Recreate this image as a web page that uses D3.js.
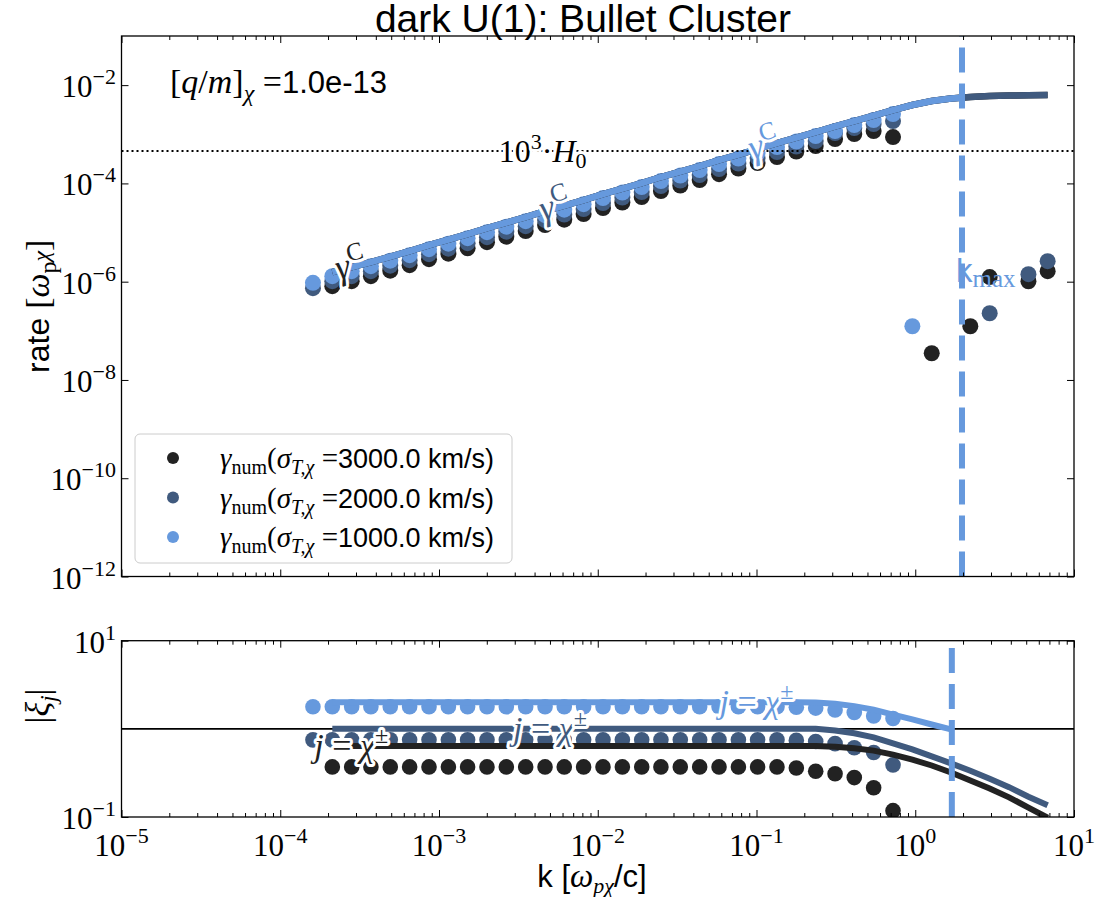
<!DOCTYPE html>
<html><head><meta charset="utf-8">
<script src="https://cdn.jsdelivr.net/npm/d3@7/dist/d3.min.js"></script>
<style>html,body{margin:0;padding:0;background:#fff}</style>
</head><body>
<svg id="fig" width="1102" height="897" xmlns="http://www.w3.org/2000/svg"></svg>
<script>
const SANS = "'Liberation Sans', Arial, sans-serif";
const SERIF = "'Liberation Serif', 'DejaVu Serif', serif";
const C_BLACK = '#222222', C_DARK = '#405a7e', C_LIGHT = '#6699dd';

// wavenumber grid [omega_p/c]
const kGrid = [1.607e-4, 2.128e-4, 2.818e-4, 3.724e-4, 4.932e-4, 6.531e-4, 8.650e-4, 1.146e-3, 1.514e-3, 2.006e-3,
  2.655e-3, 3.516e-3, 4.656e-3, 6.152e-3, 8.147e-3, 1.079e-2, 1.429e-2, 1.892e-2, 2.500e-2, 3.311e-2,
  4.385e-2, 5.808e-2, 7.691e-2, 0.1016, 0.1346, 0.1782, 0.2360, 0.3126, 0.4130, 0.5470,
  0.7244, 0.959, 1.270, 1.679, 2.223, 2.944, 3.899, 5.164, 6.823];

// numerical growth rates (top panel), one entry per kGrid value
const rateBlack = [null, 8.09e-7, 1.023e-6, 1.294e-6, 1.675e-6, 2.168e-6, 2.871e-6, 3.715e-6, 4.808e-6, 6.368e-6,
  8.241e-6, 1.069e-5, 1.416e-5, 1.832e-5, 2.371e-5, 3.141e-5, 4.064e-5, 5.260e-5, 6.966e-5, 9.016e-5,
  1.167e-4, 1.545e-4, 2.000e-4, 2.588e-4, 3.436e-4, 4.446e-4, 5.754e-4, 7.980e-4, 1.009e-3, 1.161e-3,
  8.770e-4, null, 3.5e-8, null, 1.24e-7, 1.24e-6, null, 1.02e-6, 1.64e-6];
const rateDark = [7.38e-7, 1.023e-6, 1.294e-6, 1.637e-6, 2.118e-6, 2.742e-6, 3.631e-6, 4.699e-6, 6.081e-6, 8.054e-6,
  1.042e-5, 1.349e-5, 1.791e-5, 2.317e-5, 2.999e-5, 3.972e-5, 5.140e-5, 6.653e-5, 8.810e-5, 1.140e-4,
  1.476e-4, 1.954e-4, 2.529e-4, 3.273e-4, 4.335e-4, 5.610e-4, 7.278e-4, 1.057e-3, 1.337e-3, 1.614e-3,
  1.858e-3, null, null, null, null, 2.28e-7, null, 1.42e-6, 2.62e-6];
const rateLight = [9.46e-7, 1.294e-6, 1.637e-6, 2.070e-6, 2.679e-6, 3.467e-6, 4.592e-6, 5.943e-6, 7.691e-6, 1.019e-5,
  1.318e-5, 1.706e-5, 2.259e-5, 2.924e-5, 3.784e-5, 5.023e-5, 6.501e-5, 8.414e-5, 1.114e-4, 1.442e-4,
  1.866e-4, 2.472e-4, 3.199e-4, 4.140e-4, 5.483e-4, 7.096e-4, 9.183e-4, 1.161e-3, 1.538e-3, 1.945e-3,
  2.576e-3, 1.24e-7, null, null, null, null, null, null, null];
// analytic Coulomb-type rate gamma^C
const rateCoulomb = [null, 1.56e-6, 1.97e-6, 2.49e-6, 3.23e-6, 4.18e-6, 5.53e-6, 7.16e-6, 9.27e-6, 1.23e-5,
  1.59e-5, 2.06e-5, 2.73e-5, 3.53e-5, 4.57e-5, 6.05e-5, 7.83e-5, 1.01e-4, 1.35e-4, 1.74e-4,
  2.25e-4, 2.99e-4, 3.86e-4, 5.00e-4, 6.62e-4, 8.57e-4, 1.11e-3, 1.44e-3, 1.86e-3, 2.40e-3,
  3.11e-3, 3.94e-3, 4.74e-3, 5.33e-3, 5.73e-3, 6.00e-3, 6.14e-3, 6.22e-3, 6.28e-3];

// |xi_j| numerical points (bottom panel)
const xiBlack = [null, 0.37, 0.37, 0.37, 0.37, 0.37, 0.37, 0.37, 0.37, 0.37,
  0.37, 0.37, 0.37, 0.37, 0.37, 0.37, 0.37, 0.37, 0.37, 0.37,
  0.37, 0.37, 0.37, 0.37, 0.37, 0.36, 0.33, 0.31, 0.28, 0.215,
  0.118, null, null, null, null, null, null, null, null];
const xiDark = [0.75, 0.75, 0.75, 0.75, 0.75, 0.75, 0.75, 0.75, 0.75, 0.75,
  0.75, 0.75, 0.75, 0.75, 0.75, 0.75, 0.75, 0.75, 0.75, 0.75,
  0.75, 0.75, 0.75, 0.75, 0.75, 0.74, 0.72, 0.68, 0.61, 0.54,
  0.39, null, null, null, null, null, null, null, null];
const xiLight = [1.78, 1.78, 1.78, 1.78, 1.78, 1.78, 1.78, 1.78, 1.78, 1.78,
  1.78, 1.78, 1.78, 1.78, 1.78, 1.78, 1.78, 1.78, 1.78, 1.78,
  1.78, 1.78, 1.78, 1.78, 1.78, 1.76, 1.72, 1.64, 1.53, 1.40,
  1.31, null, null, null, null, null, null, null, null];
// |xi_j| analytic curves
const xiCurveBlack = [null, 0.64, 0.64, 0.64, 0.64, 0.64, 0.64, 0.64, 0.64, 0.64,
  0.64, 0.64, 0.64, 0.64, 0.64, 0.64, 0.64, 0.64, 0.64, 0.64,
  0.64, 0.64, 0.64, 0.64, 0.64, 0.64, 0.64, 0.626, 0.602, 0.566,
  0.51, 0.448, 0.384, 0.32, 0.26, 0.211, 0.167, 0.128, 0.098];
const xiCurveDark = [null, 1.0, 1.0, 1.0, 1.0, 1.0, 1.0, 1.0, 1.0, 1.0,
  1.0, 1.0, 1.0, 1.0, 1.0, 1.0, 1.0, 1.0, 1.0, 1.0,
  1.0, 1.0, 1.0, 1.0, 1.0, 1.0, 1.0, 0.96, 0.89, 0.80,
  0.684, 0.585, 0.488, 0.406, 0.335, 0.272, 0.218, 0.170, 0.136];
const xiCurveLight = [null, 2.0, 2.0, 2.0, 2.0, 2.0, 2.0, 2.0, 2.0, 2.0,
  2.0, 2.0, 2.0, 2.0, 2.0, 2.0, 2.0, 2.0, 2.0, 2.0,
  2.0, 2.0, 2.0, 2.0, 2.0, 2.0, 1.99, 1.93, 1.81, 1.65,
  1.45, 1.28, 1.12, 0.985, null, null, null, null, null];

const sigmaLabels = ['3000.0', '2000.0', '1000.0'];
const seriesColors = [C_BLACK, C_DARK, C_LIGHT];
const xMajor = [1e-5, 1e-4, 1e-3, 1e-2, 1e-1, 1e0, 1e1];
const xExp = ['−5', '−4', '−3', '−2', '−1', '0', '1'];
const yTopMajor = [1e-12, 1e-10, 1e-8, 1e-6, 1e-4, 1e-2];
const yTopExp = ['−12', '−10', '−8', '−6', '−4', '−2'];
const yBotMajor = [1e-1, 1e1];
const yBotExp = ['−1', '1'];
const hubbleRate = 4.55e-4;        // 10^3 H_0
const kmaxTop = 1.97, kmaxBottom = 1.70;
const xiUnity = 1.0;
const chargeRatio = '1.0e-13';
const labelKTop = [2.8e-4, 5.4e-3, 0.112];   // where the gamma^C tags sit
const labelKBot = [2.8e-4, 5.0e-3, 0.10];    // where the j = chi tags sit
const labelKHubble = 4.5e-3;

// ---------- layout ----------
const L = 121.5, R = 1074;
const TOP = {y0: 36, y1: 576.5};
const BOT = {y0: 640.7, y1: 817};

const svg = d3.select('#fig');
svg.append('rect').attr('width', 1102).attr('height', 897).attr('fill', '#fff');

const x = d3.scaleLog().domain([1e-5, 1e1]).range([L, R]);
const yT = d3.scaleLog().domain([1e-12, 1e-1]).range([TOP.y1, TOP.y0]);
const yB = d3.scaleLog().domain([1e-1, 1e1]).range([BOT.y1, BOT.y0]);

const defs = svg.append('defs');
function clip(id, x0, y0, x1, y1) {
  defs.append('clipPath').attr('id', id).append('rect')
    .attr('x', x0).attr('y', y0).attr('width', x1 - x0).attr('height', y1 - y0);
  return `url(#${id})`;
}
const clipTop = clip('cTop', L, TOP.y0, R, TOP.y1);
const clipBot = clip('cBot', L, BOT.y0, R, BOT.y1);
const clipTopLight = clip('cTopL', L, TOP.y0, x(kmaxTop), TOP.y1);

// rich text: runs of serif / sans with sub/superscripts
function mtext(parent, parts, attrs) {
  const t = parent.append('text');
  for (const [k, v] of Object.entries(attrs || {})) t.attr(k, v);
  let cur = 0;
  for (const p of parts) {
    const s = t.append('tspan').text(p.t)
      .attr('font-family', p.sans ? SANS : SERIF)
      .attr('font-style', p.it ? 'italic' : 'normal')
      .attr('font-size', p.fs);
    const off = p.dy || 0;
    if (off !== cur) { s.attr('dy', off - cur); cur = off; }
    if (p.dx) s.attr('dx', p.dx);
  }
  return t;
}
function halo(t) {
  return t.attr('stroke', '#fff').attr('stroke-width', 6).attr('stroke-linejoin', 'round')
    .attr('paint-order', 'stroke');
}

function minorTicks(lo, hi) {
  const out = [];
  for (let e = lo; e < hi; e++) for (let m = 2; m < 10; m++) out.push(m * Math.pow(10, e));
  return out;
}
const xMinor = minorTicks(-5, 1);

function frame(g, y, y0, y1, yMaj) {
  const axes = [
    [d3.axisBottom(x), `translate(0,${y1})`, xMajor, 7],
    [d3.axisBottom(x), `translate(0,${y1})`, xMinor, 4],
    [d3.axisTop(x), `translate(0,${y0})`, xMajor, 7],
    [d3.axisTop(x), `translate(0,${y0})`, xMinor, 4],
    [d3.axisLeft(y), `translate(${L},0)`, yMaj, 7],
    [d3.axisRight(y), `translate(${R},0)`, yMaj, 7],
  ];
  for (const [ax, tr, vals, len] of axes) {
    const a = g.append('g').attr('transform', tr)
      .call(ax.tickValues(vals).tickSize(-len).tickFormat(''));
    a.select('.domain').remove();
    a.selectAll('line').attr('stroke', '#000').attr('stroke-width', 1);
  }
  g.append('rect').attr('x', L).attr('y', y0).attr('width', R - L).attr('height', y1 - y0)
    .attr('fill', 'none').attr('stroke', '#000').attr('stroke-width', 1.3);
}

function pairs(vals) { return kGrid.map((k, i) => [k, vals[i]]).filter(d => d[1] != null); }
function interpLog(vals, k) {
  const p = pairs(vals);
  for (let i = 0; i < p.length - 1; i++) {
    if (k >= p[i][0] && k <= p[i + 1][0]) {
      const t = (Math.log(k) - Math.log(p[i][0])) / (Math.log(p[i + 1][0]) - Math.log(p[i][0]));
      return Math.exp(Math.log(p[i][1]) + t * (Math.log(p[i + 1][1]) - Math.log(p[i][1])));
    }
  }
  return p[p.length - 1][1];
}

// ---------- title ----------
svg.append('text').attr('x', 583).attr('y', 32).attr('text-anchor', 'middle')
  .attr('font-family', SANS).attr('font-size', 39).text('dark U(1): Bullet Cluster');

// ---------- top panel ----------
const gT = svg.append('g');
const dotsT = gT.append('g').attr('clip-path', clipTop);
[rateBlack, rateDark, rateLight].forEach((vals, s) => {
  dotsT.append('g').selectAll('circle').data(pairs(vals)).join('circle')
    .attr('cx', d => x(d[0])).attr('cy', d => yT(d[1])).attr('r', 8)
    .attr('fill', seriesColors[s]);
});
const lineT = d3.line().x(d => x(d[0])).y(d => yT(d[1]));
[C_BLACK, C_DARK, C_LIGHT].forEach((c, s) => {
  gT.append('path').attr('d', lineT(pairs(rateCoulomb)))
    .attr('clip-path', s === 2 ? clipTopLight : clipTop)
    .attr('fill', 'none').attr('stroke', c).attr('stroke-width', 6.5);
});
// 10^3 H_0 reference
gT.append('line').attr('x1', L).attr('x2', R).attr('y1', yT(hubbleRate)).attr('y2', yT(hubbleRate))
  .attr('stroke', '#000').attr('stroke-width', 2).attr('stroke-dasharray', '2,3');
halo(mtext(gT, [
  {t: '10', fs: 32}, {t: '3', fs: 22, dy: -13}, {t: '·', fs: 32, dy: 0}, {t: 'H', fs: 32, it: true},
  {t: '0', fs: 22, dy: 6}], {x: x(labelKHubble), y: yT(hubbleRate) + 11, 'text-anchor': 'middle', fill: '#000'}));
// gamma^C tags along the analytic curve
labelKTop.forEach((k, s) => {
  const px = x(k), py = yT(interpLog(rateCoulomb, k));
  const k2 = k * 1.3, dx = x(k2) - px, dy = yT(interpLog(rateCoulomb, k2)) - py;
  const ang = Math.atan2(dy, dx) * 180 / Math.PI;
  halo(mtext(gT, [{t: 'γ', fs: 36, it: true}, {t: 'C', fs: 25, dy: -15}],
    {transform: `translate(${px},${py}) rotate(${ang})`, y: 9, 'text-anchor': 'middle', fill: seriesColors[s]}));
});
// k_max marker
gT.append('line').attr('x1', x(kmaxTop)).attr('x2', x(kmaxTop)).attr('y1', TOP.y1).attr('y2', TOP.y0)
  .attr('stroke', C_LIGHT).attr('stroke-width', 6).attr('stroke-dasharray', '25,11');
mtext(gT, [{t: 'k', fs: 33, sans: true}, {t: 'max', fs: 25, dy: 5}],
  {x: x(kmaxTop) - 6, y: 282, fill: C_LIGHT});
frame(gT, yT, TOP.y0, TOP.y1, yTopMajor);
yTopMajor.forEach((v, i) => mtext(gT, [{t: '10', fs: 31}, {t: yTopExp[i], fs: 22, dy: -13}],
  {x: 116, y: yT(v) + 12, 'text-anchor': 'end', fill: '#000'}));
// charge-to-mass annotation
mtext(gT, [{t: '[', fs: 34}, {t: 'q', fs: 34, it: true}, {t: '/', fs: 34}, {t: 'm', fs: 34, it: true},
  {t: ']', fs: 34}, {t: 'χ', fs: 24, it: true, dy: 8}, {t: ' =', fs: 34, dy: 0},
  {t: chargeRatio, fs: 31, sans: true}], {x: 170, y: 93, fill: '#000'});
// legend
const lg = gT.append('g');
lg.append('rect').attr('x', 135).attr('y', 434).attr('width', 377).attr('height', 129).attr('rx', 5)
  .attr('fill', '#fff').attr('fill-opacity', 0.8).attr('stroke', '#cccccc').attr('stroke-width', 1);
sigmaLabels.forEach((sl, i) => {
  const cy = 458 + i * 39.5;
  lg.append('circle').attr('cx', 173).attr('cy', cy).attr('r', 6).attr('fill', seriesColors[i]);
  mtext(lg, [{t: 'γ', fs: 29, it: true}, {t: 'num', fs: 20, dy: 6}, {t: '(', fs: 29, dy: 0},
    {t: 'σ', fs: 29, it: true}, {t: 'T,χ', fs: 20, it: true, dy: 6}, {t: ' =', fs: 29, dy: 0},
    {t: sl + ' km/s)', fs: 27, sans: true}], {x: 220, y: cy + 10, fill: '#000'});
});
// y label
mtext(svg, [{t: 'rate ', fs: 32, sans: true}, {t: '[', fs: 34}, {t: 'ω', fs: 34, it: true},
  {t: 'p', fs: 24, dy: 7}, {t: 'χ', fs: 24, it: true}, {t: ']', fs: 34, dy: 0}],
  {transform: `translate(49,${(TOP.y0 + TOP.y1) / 2}) rotate(-90)`, 'text-anchor': 'middle', fill: '#000'});

// ---------- bottom panel ----------
const gB = svg.append('g');
gB.append('line').attr('x1', L).attr('x2', R).attr('y1', yB(xiUnity)).attr('y2', yB(xiUnity))
  .attr('stroke', '#000').attr('stroke-width', 1.6);
const dotsB = gB.append('g').attr('clip-path', clipBot);
[xiBlack, xiDark, xiLight].forEach((vals, s) => {
  dotsB.append('g').selectAll('circle').data(pairs(vals)).join('circle')
    .attr('cx', d => x(d[0])).attr('cy', d => yB(d[1])).attr('r', 7.8)
    .attr('fill', seriesColors[s]);
});
const lineB = d3.line().x(d => x(d[0])).y(d => yB(d[1]));
[xiCurveBlack, xiCurveDark, xiCurveLight].forEach((vals, s) => {
  gB.append('path').attr('d', lineB(pairs(vals))).attr('clip-path', clipBot)
    .attr('fill', 'none').attr('stroke', seriesColors[s]).attr('stroke-width', 6);
});
[xiCurveBlack, xiCurveDark, xiCurveLight].forEach((vals, s) => {
  const k = labelKBot[s];
  halo(mtext(gB, [{t: 'j', fs: 34, it: true}, {t: ' = ', fs: 34}, {t: 'χ', fs: 34, it: true},
    {t: '±', fs: 24, dy: -14}], {x: x(k), y: yB(interpLog(vals, k)) + 11, 'text-anchor': 'middle', fill: seriesColors[s]}));
});
gB.append('line').attr('x1', x(kmaxBottom)).attr('x2', x(kmaxBottom)).attr('y1', BOT.y1).attr('y2', BOT.y0)
  .attr('stroke', C_LIGHT).attr('stroke-width', 6).attr('stroke-dasharray', '25,11');
frame(gB, yB, BOT.y0, BOT.y1, yBotMajor);
yBotMajor.forEach((v, i) => mtext(gB, [{t: '10', fs: 31}, {t: yBotExp[i], fs: 22, dy: -13}],
  {x: 116, y: yB(v) + 12, 'text-anchor': 'end', fill: '#000'}));
xMajor.forEach((v, i) => mtext(gB, [{t: '10', fs: 31}, {t: xExp[i], fs: 22, dy: -13}],
  {x: x(v), y: 856, 'text-anchor': 'middle', fill: '#000'}));
mtext(svg, [{t: '|', fs: 34}, {t: 'ξ', fs: 34, it: true}, {t: 'j', fs: 24, it: true, dy: 7}, {t: '|', fs: 34, dy: 0}],
  {transform: `translate(49,706) rotate(-90)`, 'text-anchor': 'middle', fill: '#000'});
mtext(svg, [{t: 'k [', fs: 31, sans: true}, {t: 'ω', fs: 33, it: true}, {t: 'pχ', fs: 22, it: true, dy: 6},
  {t: '/c]', fs: 31, sans: true, dy: 0}], {x: 592, y: 887, 'text-anchor': 'middle', fill: '#000'});
</script>
</body></html>
